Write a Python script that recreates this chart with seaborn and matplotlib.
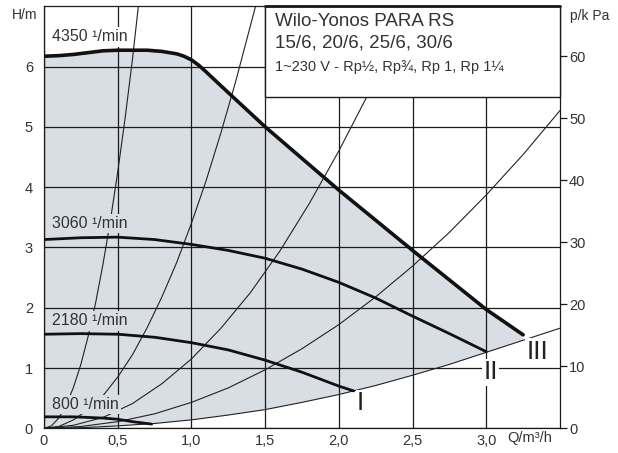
import matplotlib
matplotlib.use('Agg')
import matplotlib.pyplot as plt
import seaborn as sns
import pandas as pd
from matplotlib.patches import Rectangle

# ---------------- data ----------------
q_4350 = [0, 0.1, 0.2, 0.3, 0.4, 0.5, 0.6, 0.7, 0.8, 0.9, 0.95, 1.0, 1.05, 1.1, 1.2, 1.5, 2.0, 2.5, 3.0, 3.25]
h_4350 = [6.17, 6.18, 6.20, 6.23, 6.26, 6.27, 6.27, 6.27, 6.25, 6.21, 6.17, 6.11, 6.02, 5.91, 5.68, 5.00, 3.95, 2.95, 1.97, 1.55]

q_3060 = [0, 0.25, 0.5, 0.75, 1.0, 1.25, 1.5, 1.75, 2.0, 2.25, 2.5, 2.75, 3.0]
h_3060 = [3.13, 3.16, 3.17, 3.13, 3.05, 2.95, 2.82, 2.64, 2.42, 2.16, 1.86, 1.57, 1.27]

q_2180 = [0, 0.25, 0.5, 0.75, 1.0, 1.25, 1.5, 1.75, 2.0, 2.1]
h_2180 = [1.56, 1.57, 1.56, 1.51, 1.42, 1.30, 1.13, 0.93, 0.70, 0.62]

q_800 = [0, 0.2, 0.4, 0.5, 0.6, 0.73]
h_800 = [0.19, 0.19, 0.17, 0.15, 0.11, 0.07]

# lower limit (system curve bounding the grey field)
q_lim = [0, 0.25, 0.5, 0.75, 1.0, 1.25, 1.5, 1.75, 2.0, 2.1, 2.25, 2.5, 2.75, 3.0, 3.25, 3.5]
h_lim = [0, 0.01, 0.04, 0.08, 0.14, 0.22, 0.31, 0.43, 0.56, 0.62, 0.71, 0.88, 1.06, 1.26, 1.46, 1.66]

# thin system curves
q_s1 = [0, 0.05, 0.1, 0.15, 0.2, 0.25, 0.3, 0.35, 0.4, 0.45, 0.5, 0.55, 0.6, 0.64]
h_s1 = [0, 0.04, 0.17, 0.38, 0.68, 1.06, 1.53, 2.08, 2.72, 3.44, 4.25, 5.14, 6.12, 7.0]
q_s2 = [0, 0.1, 0.2, 0.3, 0.4, 0.5, 0.6, 0.7, 0.8, 0.9, 1.0, 1.1, 1.2, 1.3, 1.435]
h_s2 = [0, 0.03, 0.14, 0.31, 0.54, 0.85, 1.22, 1.67, 2.18, 2.75, 3.40, 4.11, 4.90, 5.75, 7.0]
q_s3 = [0, 0.2, 0.4, 0.6, 0.8, 1.0, 1.2, 1.4, 1.6, 1.8, 2.0, 2.19]
h_s3 = [0, 0.05, 0.18, 0.41, 0.74, 1.15, 1.66, 2.25, 2.94, 3.73, 4.60, 5.5]
q_s4 = [0, 0.25, 0.5, 0.75, 1.0, 1.25, 1.5, 1.75, 2.0, 2.25, 2.5, 2.75, 3.0, 3.25, 3.5]
h_s4 = [0, 0.03, 0.11, 0.24, 0.43, 0.67, 0.97, 1.32, 1.72, 2.18, 2.69, 3.25, 3.87, 4.54, 5.27]

x_ticks = [0, 0.5, 1.0, 1.5, 2.0, 2.5, 3.0]
x_labels = ['0', '0,5', '1,0', '1,5', '2,0', '2,5', '3,0']
y_ticks = [0, 1, 2, 3, 4, 5, 6]
y_labels = ['0', '1', '2', '3', '4', '5', '6']
p_ticks = [0, 10, 20, 30, 40, 50, 60]

speed_labels = ['4350 ¹/min', '3060 ¹/min', '2180 ¹/min', '800 ¹/min']
title_lines = ['Wilo-Yonos PARA RS', '15/6, 20/6, 25/6, 30/6', '1~230 V - Rp½, Rp¾, Rp 1, Rp 1¼']

# ---------------- style ----------------
sns.set_style('white')
plt.rcParams['font.family'] = ['Liberation Sans', 'DejaVu Sans']
TXT = '#333333'
GREY = '#d9dde4'

W, H = 618, 453
fig = plt.figure(figsize=(W / 100, H / 100), dpi=100)
ax = fig.add_axes([44 / W, 1 - 428.3 / H, (560 - 44) / W, (428.3 - 6.2) / H])
ax.set_xlim(0, 3.5)
ax.set_ylim(0, 7.0)

# grey operating field
fill_q = q_4350 + [q for q in q_lim[::-1] if q <= 3.25]
fill_h = h_4350 + [h for q, h in zip(q_lim[::-1], h_lim[::-1]) if q <= 3.25]
ax.fill(fill_q, fill_h, color=GREY, lw=0, zorder=1)

# grid
ax.set_xticks(x_ticks)
ax.set_xticklabels(x_labels)
ax.set_yticks(y_ticks)
ax.set_yticklabels(y_labels)
ax.grid(True, color='#1a1a1a', lw=0.9, zorder=2)
ax.set_axisbelow(False)
for s in ax.spines.values():
    s.set_color('#1a1a1a')
    s.set_linewidth(0.9)
ax.tick_params(axis='both', length=0, labelsize=10.5, colors=TXT)
ax.tick_params(axis='y', pad=8)
ax.tick_params(axis='x', pad=4)

# system curves
for qs, hs in [(q_s1, h_s1), (q_s2, h_s2), (q_s3, h_s3), (q_s4, h_s4), (q_lim, h_lim)]:
    sns.lineplot(x=qs, y=hs, ax=ax, color='#222222', lw=0.8, sort=False,
                 estimator=None, legend=False, zorder=3)

# speed curves
sns.lineplot(x=q_4350, y=h_4350, ax=ax, color='#111111', lw=2.6, sort=False,
             estimator=None, legend=False, zorder=4)
for qs, hs in [(q_3060, h_3060), (q_2180, h_2180), (q_800, h_800)]:
    sns.lineplot(x=qs, y=hs, ax=ax, color='#111111', lw=2.0, sort=False,
                 estimator=None, legend=False, zorder=4)

# speed labels
lab_pos = [(0.055, 6.49, 'white'), (0.055, 3.40, GREY), (0.055, 1.78, GREY), (0.055, 0.39, GREY)]
for (xq, yh, bg), txt in zip(lab_pos, speed_labels):
    ax.text(xq, yh, txt, fontsize=11.5, color=TXT, ha='left', va='center', zorder=5,
            bbox=dict(facecolor=bg, edgecolor='none', pad=1.5))

# roman numerals
for xq, yh, txt in [(2.148, 0.42, 'I'), (3.03, 0.93, 'II'), (3.344, 1.27, 'III')]:
    ax.text(xq, yh, txt, fontsize=19, color='#222222', ha='center', va='center', zorder=5,
            bbox=dict(facecolor='white', edgecolor='none', pad=1.0))

# title box
ax.add_patch(Rectangle((1.5, 5.5), 2.0, 1.5, facecolor='white', edgecolor='#1a1a1a',
                       lw=1.0, zorder=6, clip_on=False))
ax.plot([1.5, 3.5], [7.0, 7.0], color='#1a1a1a', lw=2.0, zorder=7, clip_on=False)
fig.text(275 / W, 1 - 21.7 / H, title_lines[0], fontsize=13.5, color=TXT, ha='left', va='center')
fig.text(275 / W, 1 - 43.5 / H, title_lines[1], fontsize=13.5, color=TXT, ha='left', va='center')
fig.text(275 / W, 1 - 66.7 / H, title_lines[2], fontsize=10.5, color=TXT, ha='left', va='center')

# secondary pressure axis
k = 9.73
sec = ax.secondary_yaxis('right', functions=(lambda h: h * k, lambda p: p / k))
sec.set_yticks(p_ticks)
sec.tick_params(length=5, width=0.9, pad=1.5, labelsize=10.5, colors=TXT, direction='out')
sec.tick_params(color='#1a1a1a')
sec.spines['right'].set_visible(False)

# axis titles
fig.text(24.5 / W, 1 - 15 / H, 'H/m', fontsize=10, color=TXT, ha='center', va='center')
fig.text(590 / W, 1 - 16 / H, 'p/k Pa', fontsize=10, color=TXT, ha='center', va='center')
fig.text(507 / W, 1 - 438 / H, 'Q/m³/h', fontsize=10.5, color=TXT, ha='left', va='center')

fig.savefig('out.png', dpi=100)
